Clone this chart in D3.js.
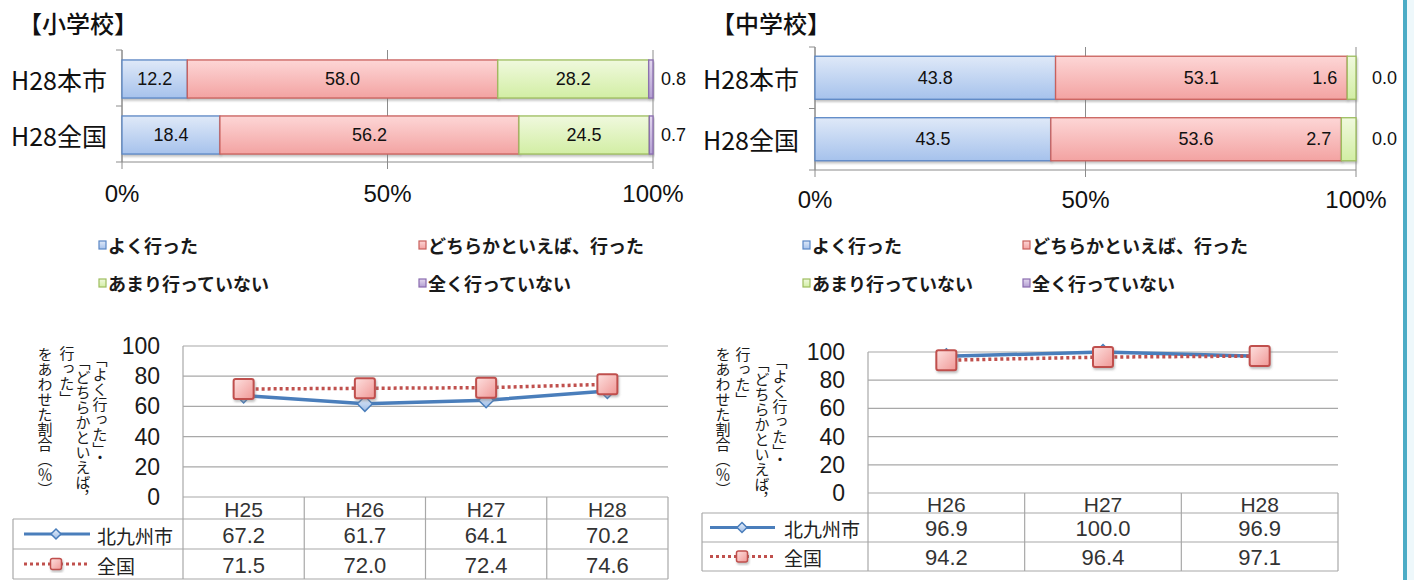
<!DOCTYPE html>
<html><head><meta charset="utf-8">
<script src="https://cdn.jsdelivr.net/npm/d3@7"></script>
<style>
html,body{margin:0;padding:0;background:#fff;}
#wrap{position:relative;width:1414px;height:580px;overflow:hidden;}
svg{display:block;position:absolute;left:0;top:0;}
text{font-family:"Liberation Sans","Noto Sans CJK JP",sans-serif;}
.jp{font-family:"Noto Sans CJK JP","Liberation Sans",sans-serif;}
.vt{position:absolute;writing-mode:vertical-rl;text-orientation:mixed;font-family:"Noto Sans CJK JP",sans-serif;
  font-size:15px;line-height:15px;color:#1a1a1a;white-space:nowrap;}
</style></head>
<body>
<div id="wrap"><svg id="c" width="1414" height="580"></svg></div>
<script>
// ---------- data ----------
const barCategories = ["H28本市", "H28全国"];
const answerLabels = ["よく行った", "どちらかといえば、行った", "あまり行っていない", "全く行っていない"];
const elemGood = [12.2, 18.4];
const elemSomewhat = [58.0, 56.2];
const elemNotMuch = [28.2, 24.5];
const elemNever = [0.8, 0.7];
const midGood = [43.8, 43.5];
const midSomewhat = [53.1, 53.6];
const midNotMuch = [1.6, 2.7];
const midNever = [0.0, 0.0];
const pctTicks = [0, 50, 100];

const seriesNames = ["北九州市", "全国"];
const elemYears = ["H25", "H26", "H27", "H28"];
const elemCity = [67.2, 61.7, 64.1, 70.2];
const elemNation = [71.5, 72.0, 72.4, 74.6];
const midYears = ["H26", "H27", "H28"];
const midCity = [96.9, 100.0, 96.9];
const midNation = [94.2, 96.4, 97.1];
const rateTicks = [0, 20, 40, 60, 80, 100];
const yTitleLines = ["「よく行った」・", "「どちらかといえば，", "行った」", "をあわせた割合（％）"];
const titles = ["【小学校】", "【中学校】"];

// ---------- setup ----------
const svg = d3.select("#c");
const wrap = d3.select("#wrap");
const defs = svg.append("defs");
const segColors = [
  {id:"gBlue", top:"#dfe9f8", bot:"#a6c2ec", stroke:"#5b87c5"},
  {id:"gRed", top:"#fdd6d6", bot:"#f3a3a2", stroke:"#c9605c"},
  {id:"gGreen", top:"#f0f9de", bot:"#d2eea4", stroke:"#9dbd5e"},
  {id:"gPurple", top:"#e3d8ef", bot:"#b39fd2", stroke:"#8a6cb0"}
];
segColors.forEach(c => {
  const g = defs.append("linearGradient").attr("id", c.id).attr("x1",0).attr("y1",0).attr("x2",0).attr("y2",1);
  g.append("stop").attr("offset","0%").attr("stop-color",c.top);
  g.append("stop").attr("offset","100%").attr("stop-color",c.bot);
});
const sq = defs.append("linearGradient").attr("id","gSq").attr("x1",0).attr("y1",0).attr("x2",1).attr("y2",1);
sq.append("stop").attr("offset","0%").attr("stop-color","#fde0df");
sq.append("stop").attr("offset","100%").attr("stop-color","#f09896");
const dm = defs.append("linearGradient").attr("id","gDm").attr("x1",0).attr("y1",0).attr("x2",0).attr("y2",1);
dm.append("stop").attr("offset","0%").attr("stop-color","#e8f0fb");
dm.append("stop").attr("offset","100%").attr("stop-color","#9dbce6");
const sh = defs.append("filter").attr("id","shadow").attr("x","-20%").attr("y","-20%").attr("width","150%").attr("height","150%");
sh.append("feDropShadow").attr("dx",1).attr("dy",2).attr("stdDeviation",1.2).attr("flood-color","#777").attr("flood-opacity",0.45);

// ---------- stacked 100% bar charts ----------
function barChart(cfg, series) {
  const rows = barCategories.map((c, i) => {
    const o = {cat: c};
    series.forEach((s, k) => o["k" + k] = s[i]);
    return o;
  });
  const keys = series.map((s, k) => "k" + k);
  const stack = d3.stack().keys(keys).offset(d3.stackOffsetExpand)(rows);
  const x = d3.scaleLinear().domain([0, 1]).range([cfg.x0, cfg.x1]);
  const y = d3.scaleBand().domain(barCategories).range([cfg.y0, cfg.y1]);
  const g = svg.append("g");
  const bh = y.bandwidth() * cfg.barRatio;

  g.append("text").attr("class","jp").attr("x", cfg.titleX).attr("y", cfg.titleY)
    .attr("dominant-baseline","central").attr("font-size",24).attr("font-weight",500).attr("fill","#111").text(cfg.title);

  pctTicks.forEach(t => {
    g.append("line").attr("x1", x(t/100)).attr("x2", x(t/100)).attr("y1", cfg.y0).attr("y2", cfg.y1 + 7)
      .attr("stroke", "#8c8c8c").attr("stroke-width", 1);
  });
  g.append("line").attr("x1", cfg.x0).attr("x2", cfg.x0).attr("y1", cfg.y0).attr("y2", cfg.y1).attr("stroke","#8c8c8c");
  [cfg.y0, cfg.y0 + y.step(), cfg.y1].forEach(v => {
    g.append("line").attr("x1", cfg.x0 - 6).attr("x2", cfg.x0).attr("y1", v).attr("y2", v).attr("stroke","#8c8c8c");
  });
  g.append("line").attr("x1", cfg.x0).attr("x2", cfg.x1).attr("y1", cfg.y1).attr("y2", cfg.y1).attr("stroke","#8c8c8c");

  stack.forEach((layer, k) => {
    layer.forEach((d, i) => {
      const cy = y(barCategories[i]) + y.bandwidth() / 2 + cfg.barShift;
      g.append("rect").attr("x", x(d[0])).attr("y", cy - bh / 2)
        .attr("width", Math.max(0, x(d[1]) - x(d[0]))).attr("height", bh)
        .attr("fill", "url(#" + segColors[k].id + ")").attr("stroke", segColors[k].stroke).attr("stroke-width", 1.3)
        .attr("filter", "url(#shadow)");
    });
  });
  stack.forEach((layer, k) => {
    layer.forEach((d, i) => {
      const cy = y(barCategories[i]) + y.bandwidth() / 2 + cfg.barShift;
      const w = x(d[1]) - x(d[0]);
      const val = series[k][i].toFixed(1);
      let tx, anchor;
      if (w >= 30) { tx = (x(d[0]) + x(d[1])) / 2; anchor = "middle"; }
      else if (k === series.length - 1) { tx = cfg.x1 + cfg.outsideOff; anchor = "start"; }
      else { tx = x(d[0]) - 10; anchor = "end"; }
      g.append("text").attr("x", tx).attr("y", cy).attr("text-anchor", anchor)
        .attr("dominant-baseline","central").attr("font-size",18).attr("fill","#111").text(val);
    });
  });
  barCategories.forEach((c, i) => {
    g.append("text").attr("class","jp").attr("x", cfg.catRight).attr("y", y(c) + y.bandwidth()/2 + cfg.barShift)
      .attr("text-anchor","end").attr("dominant-baseline","central").attr("font-size",25).attr("fill","#111").text(c);
  });
  pctTicks.forEach(t => {
    g.append("text").attr("x", x(t/100)).attr("y", cfg.tickY).attr("text-anchor","middle")
      .attr("dominant-baseline","central").attr("font-size",24).attr("fill","#111").text(t + "%");
  });
  answerLabels.forEach((lab, k) => {
    const lx = cfg.legendX[k % 2], ly = cfg.legendY[Math.floor(k / 2)];
    g.append("rect").attr("x", lx).attr("y", ly - 4).attr("width", 7).attr("height", 8)
      .attr("fill", "url(#" + segColors[k].id + ")").attr("stroke", segColors[k].stroke).attr("stroke-width", 1.2);
    g.append("text").attr("class","jp").attr("x", lx + 9).attr("y", ly).attr("dominant-baseline","central")
      .attr("font-size",18).attr("font-weight",700).attr("fill","#1a1a1a").text(lab);
  });
}

barChart({title: titles[0], titleX: 18, titleY: 22, x0: 122, x1: 653, y0: 50, y1: 162, barRatio: 0.68, barShift: 1,
  catRight: 107, tickY: 193, outsideOff: 8, legendX: [99, 419], legendY: [245, 283]},
  [elemGood, elemSomewhat, elemNotMuch, elemNever]);
barChart({title: titles[1], titleX: 711, titleY: 22, x0: 815, x1: 1356, y0: 47, y1: 170, barRatio: 0.7, barShift: 0,
  catRight: 799, tickY: 199, outsideOff: 16, legendX: [803, 1023], legendY: [245, 283]},
  [midGood, midSomewhat, midNotMuch, midNever]);

// ---------- line charts with data table ----------
function squareMarker(g, cx, cy, s) {
  g.append("rect").attr("x", cx - s/2).attr("y", cy - s/2).attr("width", s).attr("height", s).attr("rx", 2)
    .attr("fill","url(#gSq)").attr("stroke","#c0504d").attr("stroke-width", s > 14 ? 2 : 1.5).attr("filter","url(#shadow)");
}
function diamondMarker(g, cx, cy, s) {
  g.append("path").attr("d", `M${cx},${cy - s/2}L${cx + s/2},${cy}L${cx},${cy + s/2}L${cx - s/2},${cy}Z`)
    .attr("fill","url(#gDm)").attr("stroke","#4a7ebb").attr("stroke-width",1.5);
}

function lineChart(cfg, years, city, nation) {
  const g = svg.append("g");
  const x = d3.scaleBand().domain(years).range([cfg.px0, cfg.px1]);
  const y = d3.scaleLinear().domain([0, 100]).range([cfg.yBot, cfg.yTop]);
  const cx = d => x(d) + x.bandwidth() / 2;
  const grid = "#a8a8a8";

  rateTicks.forEach(t => {
    g.append("line").attr("x1", cfg.px0).attr("x2", cfg.px1).attr("y1", y(t)).attr("y2", y(t))
      .attr("stroke", grid).attr("stroke-width", 1.2);
    g.append("text").attr("x", cfg.tickRight).attr("y", y(t)).attr("text-anchor","end")
      .attr("dominant-baseline","central").attr("font-size",23).attr("fill","#1a1a1a").text(t);
  });
  g.append("line").attr("x1", cfg.px0).attr("x2", cfg.px0).attr("y1", y(100)).attr("y2", cfg.rows[2])
    .attr("stroke", grid).attr("stroke-width", 1.2);

  years.forEach(yr => {
    g.append("line").attr("x1", x(yr) + x.bandwidth()).attr("x2", x(yr) + x.bandwidth())
      .attr("y1", cfg.yBot).attr("y2", cfg.rows[2]).attr("stroke", grid).attr("stroke-width", 1.2);
    g.append("text").attr("x", cx(yr)).attr("y", (cfg.yBot + cfg.rows[0]) / 2 + 1).attr("text-anchor","middle")
      .attr("dominant-baseline","central").attr("font-size",21).attr("fill","#333").text(yr);
  });
  cfg.rows.forEach(r => {
    g.append("line").attr("x1", cfg.tableLeft).attr("x2", cfg.px1).attr("y1", r).attr("y2", r)
      .attr("stroke", grid).attr("stroke-width", 1.2);
  });
  g.append("line").attr("x1", cfg.tableLeft).attr("x2", cfg.tableLeft).attr("y1", cfg.rows[0]).attr("y2", cfg.rows[2])
    .attr("stroke", grid).attr("stroke-width", 1.2);
  [city, nation].forEach((vals, s) => {
    const ry = (cfg.rows[s] + cfg.rows[s + 1]) / 2 + 1;
    vals.forEach((v, i) => {
      g.append("text").attr("x", cx(years[i])).attr("y", ry).attr("text-anchor","middle")
        .attr("dominant-baseline","central").attr("font-size",22).attr("fill","#333").text(v.toFixed(1));
    });
    if (s === 0) {
      g.append("line").attr("x1", cfg.keyX[0]).attr("x2", cfg.keyX[1]).attr("y1", ry - 1).attr("y2", ry - 1)
        .attr("stroke","#4a7ebb").attr("stroke-width",3);
      diamondMarker(g, cfg.keyMark, ry - 1, 10);
    } else {
      g.append("line").attr("x1", cfg.keyX[0]).attr("x2", cfg.keyX[1]).attr("y1", ry - 1).attr("y2", ry - 1)
        .attr("stroke","#c0504d").attr("stroke-width",3).attr("stroke-dasharray","3,3");
      squareMarker(g, cfg.keyMark, ry - 1, 11);
    }
    g.append("text").attr("class","jp").attr("x", cfg.keyText).attr("y", ry).attr("dominant-baseline","central")
      .attr("font-size",19).attr("fill","#222").text(seriesNames[s]);
  });

  const line = d3.line().x((d, i) => cx(years[i])).y(d => y(d));
  g.append("path").attr("d", line(city)).attr("fill","none").attr("stroke","#4a7ebb").attr("stroke-width",3.5)
    .attr("stroke-linejoin","round");
  g.append("path").attr("d", line(nation)).attr("fill","none").attr("stroke","#c0504d").attr("stroke-width",3.5)
    .attr("stroke-dasharray","3,3");
  city.forEach((v, i) => diamondMarker(g, cx(years[i]), y(v), 15));
  nation.forEach((v, i) => squareMarker(g, cx(years[i]), y(v), 20));

  yTitleLines.forEach((t, i) => {
    wrap.append("div").attr("class","vt")
      .style("left", (cfg.titleCols[i][0] - 7.5) + "px").style("top", cfg.titleCols[i][1] + "px").text(t);
  });
}

lineChart({px0: 183, px1: 668, yTop: 346, yBot: 497, tickRight: 160, tableLeft: 13, rows: [519, 549, 579],
  keyX: [24, 90], keyMark: 56, keyText: 97,
  titleCols: [[100, 352], [83, 355], [67, 346], [45, 347]]}, elemYears, elemCity, elemNation);
lineChart({px0: 868, px1: 1338, yTop: 352, yBot: 493, tickRight: 845, tableLeft: 702, rows: [513, 542, 571],
  keyX: [710, 775], keyMark: 742, keyText: 784,
  titleCols: [[780, 354], [762, 357], [743, 347], [723, 347]]}, midYears, midCity, midNation);

svg.append("rect").attr("x", 1403).attr("y", 0).attr("width", 4).attr("height", 580).attr("fill", "#4bacc6");
svg.append("rect").attr("x", 1407).attr("y", 0).attr("width", 7).attr("height", 580).attr("fill", "#eef8fb");
</script>
</body></html>
